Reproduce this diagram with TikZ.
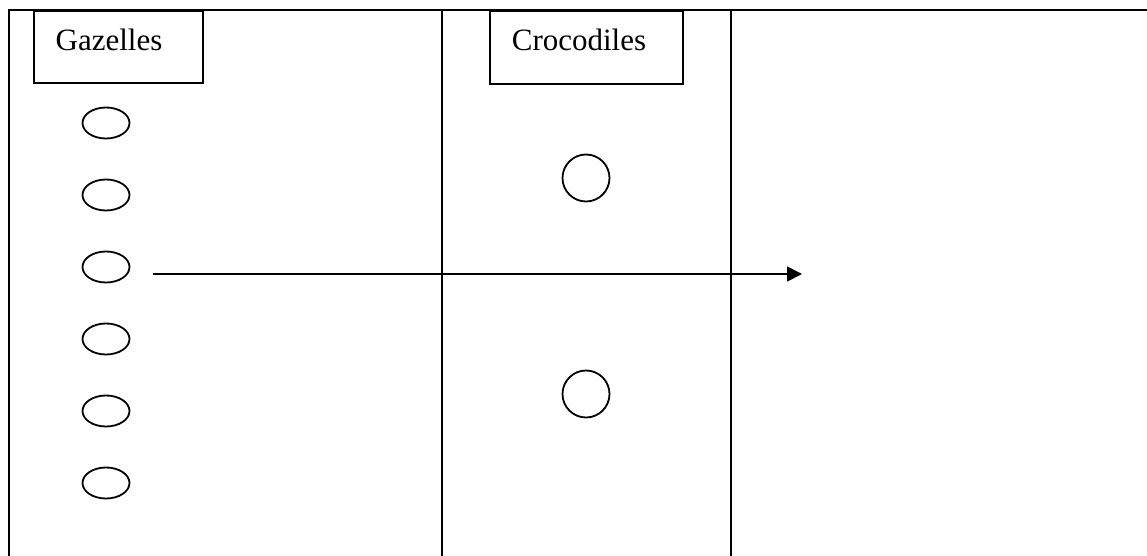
\documentclass[tikz,border=0pt]{standalone}
\usepackage{fontspec}
\setmainfont{Liberation Serif}
\usetikzlibrary{arrows.meta,shapes.geometric}
\begin{document}
\begin{tikzpicture}[x=1pt,y=-1pt,
  ln/.style={line width=1.8pt},
  labelbox/.style={draw,line width=1.8pt,inner sep=0pt,font=\fontsize{31}{36}\selectfont},
  gaz/.style={draw,ellipse,line width=1.8pt,minimum width=47pt,minimum height=31pt,inner sep=0pt},
  croc/.style={draw,circle,line width=1.8pt,minimum size=47pt,inner sep=0pt}]
\useasboundingbox (0,0) rectangle (1147,556);
% frame lines
\draw[ln] (9,568) -- (9,10) -- (1160,10);
\draw[ln] (442,10) -- (442,568);
\draw[ln] (731,10) -- (731,568);
% label boxes
\node[labelbox,minimum width=169pt,minimum height=72pt,anchor=north west] (gbox) at (33,10) {};
\node[font=\fontsize{31}{36}\selectfont,anchor=base] (gtext) at (109,51) {Gazelles};
\node[labelbox,minimum width=193pt,minimum height=73pt,anchor=north west] (cbox) at (489,10) {};
\node[font=\fontsize{31}{36}\selectfont,anchor=base] (ctext) at (579,51) {Crocodiles};
% gazelles
\node[gaz] (g1) at (106,123) {};
\node[gaz] (g2) at (106,195) {};
\node[gaz] (g3) at (106,267) {};
\node[gaz] (g4) at (106,339) {};
\node[gaz] (g5) at (106,411) {};
\node[gaz] (g6) at (106,483) {};
% crocodiles
\node[croc] (c1) at (586,178) {};
\node[croc] (c2) at (586,394) {};
% arrow
\coordinate (astart) at (153,274);
\coordinate (aend) at (802,274);
\draw[ln,-{Triangle[length=15pt,width=15pt]}] (astart) -- (aend);
\end{tikzpicture}
\end{document}
